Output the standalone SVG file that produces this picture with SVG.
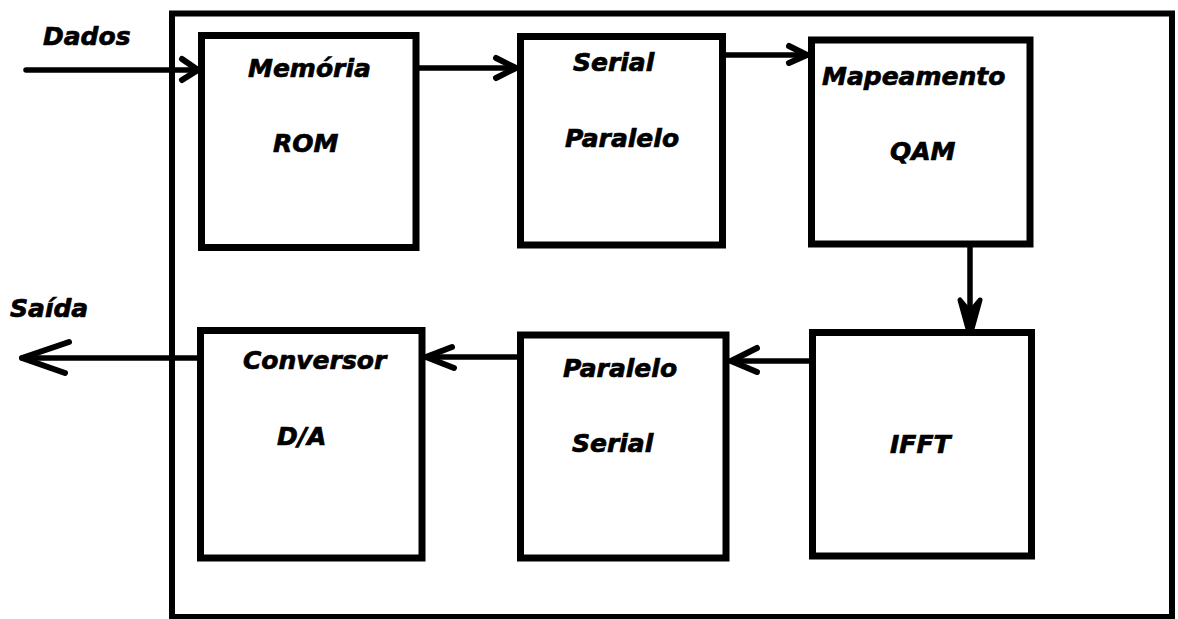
<svg xmlns="http://www.w3.org/2000/svg" width="1178" height="619" viewBox="0 0 1178 619">
<style>
.box{fill:#fff;stroke:#000;stroke-width:7}
.frame{fill:none;stroke:#000;stroke-width:6}
.ln{fill:none;stroke:#000;stroke-width:5.5;stroke-linecap:round;stroke-linejoin:round}
.hd{fill:none;stroke:#000;stroke-width:6;stroke-linecap:round;stroke-linejoin:round}
text{font-family:"DejaVu Sans",Verdana,sans-serif;font-weight:bold;font-style:italic;font-size:25px;fill:#000;stroke:#000;stroke-width:0.7}
</style>
<rect width="1178" height="619" fill="#fff"/>
<g id="frame"><rect class="frame" x="172" y="13.5" width="1000" height="603.5"/></g>
<g id="connectors">
<line class="ln" x1="26" y1="70" x2="198" y2="70"/>
<polyline class="hd" points="182,59 198,70 182,80"/>
<line class="ln" x1="419" y1="68" x2="516" y2="68"/>
<polyline class="hd" points="496,58 516,68 496,78"/>
<line class="ln" x1="726" y1="55" x2="807" y2="55"/>
<polyline class="hd" points="789,46 807,55 789,63"/>
<line class="ln" x1="970" y1="247" x2="970" y2="330"/>
<polygon points="960,300 970,336 980,300 970,312" fill="#000" stroke="#000" stroke-width="5" stroke-linejoin="round"/>
<line class="ln" x1="809" y1="361" x2="731" y2="361"/>
<polyline class="hd" points="757,348 731,361 757,372"/>
<line class="ln" x1="517" y1="357" x2="426" y2="357"/>
<polyline class="hd" points="452,347 426,357 454,368"/>
<line class="ln" x1="197" y1="358" x2="22" y2="358"/>
<polyline class="hd" points="69,342 22,358 65,373"/>
</g>
<g id="dados"><text x="43" y="45">Dados</text></g>
<g id="saida"><text x="10" y="317">Saída</text></g>
<g id="memoria"><rect class="box" x="201.5" y="35.5" width="214.5" height="212"/><text x="248" y="77">Memória</text><text x="273" y="152">ROM</text></g>
<g id="serial-paralelo"><rect class="box" x="520.5" y="36.5" width="202" height="208.5"/><text x="573" y="71">Serial</text><text x="565" y="147">Paralelo</text></g>
<g id="mapeamento"><rect class="box" x="811.5" y="40" width="218.5" height="204"/><text x="822" y="85">Mapeamento</text><text x="890" y="160">QAM</text></g>
<g id="ifft"><rect class="box" x="812.5" y="332.5" width="219" height="223.5"/><text x="890" y="453">IFFT</text></g>
<g id="paralelo-serial"><rect class="box" x="520.5" y="335" width="205.5" height="223"/><text x="563" y="377">Paralelo</text><text x="572" y="452">Serial</text></g>
<g id="conversor"><rect class="box" x="200.5" y="330.5" width="221.5" height="227.5"/><text x="243" y="369">Conversor</text><text x="277" y="445">D/A</text></g>
</svg>
